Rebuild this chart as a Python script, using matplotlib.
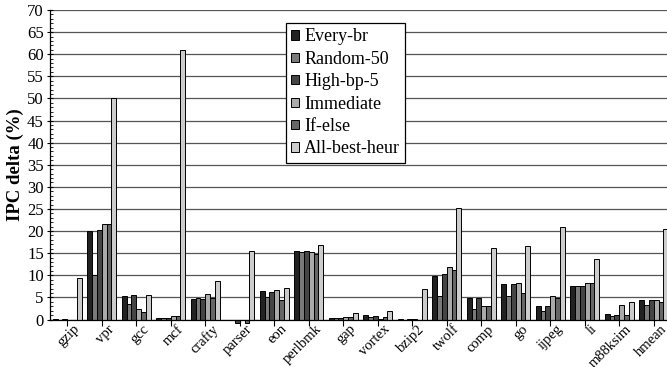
import numpy as np
import matplotlib
matplotlib.use("Agg")
import matplotlib.pyplot as plt
import matplotlib.transforms as mtransforms
from matplotlib.ticker import MultipleLocator

plt.rcParams['font.family'] = ['Liberation Serif', 'DejaVu Serif']

categories = ["gzip", "vpr", "gcc", "mcf", "crafty", "parser", "eon", "perlbmk",
              "gap", "vortex", "bzip2", "twolf", "comp", "go", "ijpeg", "li",
              "m88ksim", "hmean"]

every_br = [0.1, 20.1, 5.4, 0.3, 4.6, -0.1, 6.5, 15.4, 0.3, 1.1, 0.1, 9.9, 4.8, 8.0, 3.1, 7.6, 1.2, 4.5]
random_50 = [-0.1, 10.0, 3.6, 0.3, 4.8, -0.2, 5.2, 15.3, 0.3, 0.5, 0.0, 5.3, 2.4, 5.3, 2.0, 7.6, 0.7, 3.2]
high_bp_5 = [0.1, 20.2, 5.5, 0.3, 4.6, -0.8, 6.2, 15.5, 0.3, 0.9, 0.1, 10.2, 4.8, 8.0, 3.1, 7.5, 1.1, 4.4]
immediate = [0.0, 21.7, 2.3, 0.7, 5.8, 0.0, 6.6, 15.3, 0.5, 0.2, 0.1, 11.8, 3.1, 8.2, 5.4, 8.3, 3.2, 4.5]
if_else = [-0.2, 21.5, 1.7, 0.7, 4.9, -0.7, 4.4, 14.9, 0.5, 0.5, -0.2, 11.2, 3.1, 6.1, 4.8, 8.3, 1.0, 4.0]
all_best = [9.3, 50.0, 5.5, 61.0, 8.8, 15.6, 7.2, 16.9, 1.5, 2.0, 6.9, 25.3, 16.1, 16.7, 21.0, 13.6, 3.9, 20.4]

series_names = ["Every-br", "Random-50", "High-bp-5", "Immediate", "If-else", "All-best-heur"]
series_values = [every_br, random_50, high_bp_5, immediate, if_else, all_best]
series_colors = ["#222222", "#7a7a7a", "#454545", "#aaaaaa", "#666666", "#cccccc"]

fig = plt.figure(figsize=(6.67, 3.67), dpi=100)
ax = fig.add_axes([50/667, (367-319.5)/367, 621/667, 309.5/367])

x = np.arange(len(categories))
n = len(series_values)
bw = 0.14
for i, (name, vals, col) in enumerate(zip(series_names, series_values, series_colors)):
    off = (i - (n - 1) / 2) * bw
    bars = ax.bar(x + off, vals, width=bw, color=col, edgecolor='black', linewidth=0.7,
                  label=name, zorder=3)
    for b in bars:
        b.set_clip_on(False)

ax.set_xlim(-0.5, len(categories) - 0.5)
ax.set_ylim(0, 70)
ax.yaxis.set_major_locator(MultipleLocator(5))
ax.yaxis.set_minor_locator(MultipleLocator(1))
ax.yaxis.grid(True, which='major', color='#555555', linewidth=0.9, zorder=0)
ax.set_axisbelow(True)

ax.tick_params(axis='y', which='major', direction='inout', length=5, labelsize=12, width=0.8, pad=2)
ax.tick_params(axis='y', which='minor', direction='in', length=2.5, width=0.6)
ax.tick_params(axis='x', which='major', direction='out', length=4, labelsize=10.5, width=0.8, pad=1)

ax.set_xticks(x)
ax.set_xticklabels(categories, rotation=45, ha='right', va='top', rotation_mode='anchor')
shift = mtransforms.ScaledTranslation(0.06, 0.04, fig.dpi_scale_trans)
for lab in ax.get_xticklabels():
    lab.set_transform(lab.get_transform() + shift)

for s in ['top', 'right']:
    ax.spines[s].set_visible(False)
ax.spines['left'].set_linewidth(0.9)
ax.spines['bottom'].set_linewidth(0.9)
ax.spines['bottom'].set_zorder(4)

ax.set_ylabel("IPC delta (%)", fontsize=13.5, fontweight='bold', labelpad=2)

leg = ax.legend(loc='upper left', bbox_to_anchor=(0.38, 0.958), borderaxespad=0,
                fontsize=13, frameon=True, fancybox=False, handlelength=0.4,
                handleheight=0.4, handletextpad=0.3, labelspacing=0.3,
                borderpad=0.3)
leg.get_frame().set_edgecolor('black')
leg.get_frame().set_linewidth(0.9)
leg.get_frame().set_alpha(1)

fig.savefig("out.png", dpi=100)
